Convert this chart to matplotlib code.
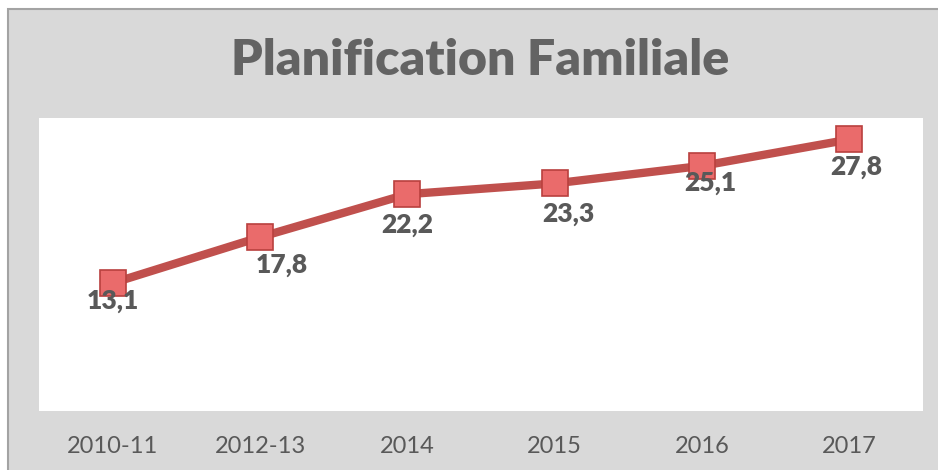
import matplotlib
matplotlib.use("Agg")
import matplotlib.pyplot as plt
from matplotlib.patches import Rectangle

# data
periods = ["2010-11", "2012-13", "2014", "2015", "2016", "2017"]
rates = [13.1, 17.8, 22.2, 23.3, 25.1, 27.8]
value_labels = ["13,1", "17,8", "22,2", "23,3", "25,1", "27,8"]

# label offsets (points) relative to each marker
label_dx = [0, 16, 0, 10, 6, 5]
label_dy = [-13, -20, -22, -22, -12, -20]

plt.rcParams["font.family"] = ["Lato", "DejaVu Sans"]

fig = plt.figure(figsize=(9.38, 4.70), dpi=100)
fig.patch.set_facecolor("white")

# grey chart frame (cut off on the right and bottom like the screenshot)
frame = Rectangle((8 / 938, -0.05), 1.0, 1 - 9 / 470 + 0.05,
                  transform=fig.transFigure, facecolor="#d9d9d9",
                  edgecolor="#a3a3a3", linewidth=1.5, zorder=-5)
fig.patches.append(frame)

ax = fig.add_axes([39 / 938, 1 - 411 / 470, (923 - 39) / 938, (411 - 118) / 470])
ax.set_zorder(2)
ax.set_facecolor("white")

x = list(range(len(periods)))
ax.plot(x, rates, color="#c0504d", linewidth=6, solid_capstyle="round",
        marker="s", markersize=19, markerfacecolor="#ea6b6b",
        markeredgecolor="#b9403e", markeredgewidth=1.2, zorder=3)

for i, (v, lab) in enumerate(zip(rates, value_labels)):
    ax.annotate(lab, (i, v), xytext=(label_dx[i], label_dy[i]),
                textcoords="offset points", ha="center", va="center",
                fontsize=19, fontweight="heavy", color="#595959", zorder=4)

ax.set_xlim(-0.5, len(periods) - 0.5)
ax.set_ylim(0, 30)
ax.set_xticks(x)
ax.set_xticklabels(periods, fontsize=17, color="#595959")
ax.set_yticks([])
ax.tick_params(axis="x", length=0, pad=18)
for s in ax.spines.values():
    s.set_visible(False)

fig.text(480 / 938, 1 - 75 / 470, "Planification Familiale", ha="center",
         va="baseline", fontsize=36, fontweight="heavy", color="#636363")

fig.savefig("out.png", dpi=100)
